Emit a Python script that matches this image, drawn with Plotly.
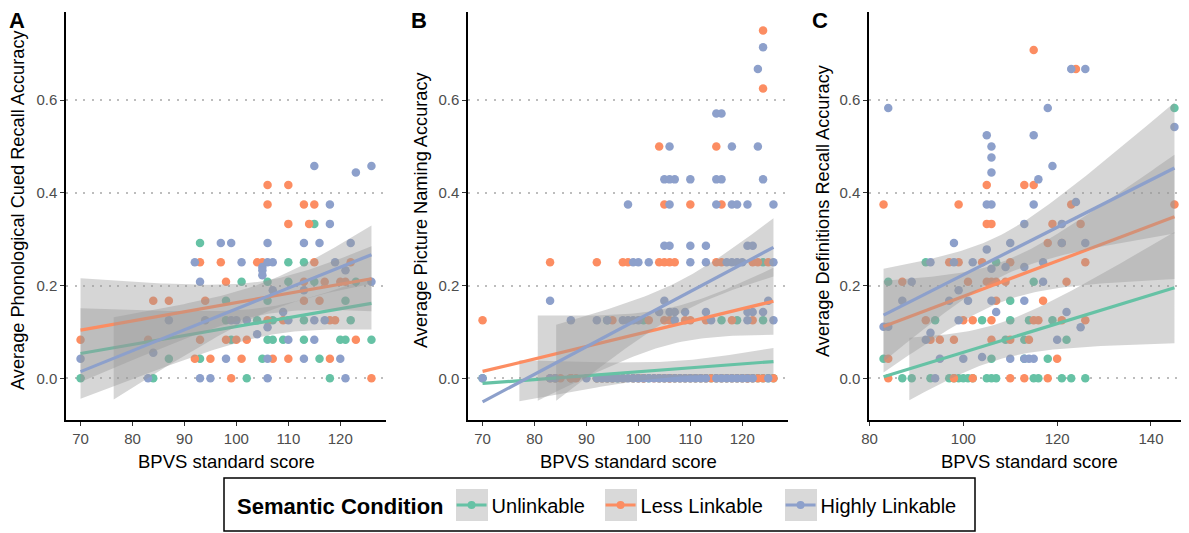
import numpy as np
import plotly.graph_objects as go

conditions = ["Unlinkable", "Less Linkable", "Highly Linkable"]
colors = ["#66C2A5", "#FC8D62", "#8DA0CB"]
panel_letters = ["A", "B", "C"]
y_titles = ["Average Phonological Cued Recall Accuracy",
            "Average Picture Naming Accuracy",
            "Average Definitions Recall Accuracy"]
x_title = "BPVS standard score"
legend_title = "Semantic Condition"
y_ticks = [0.0, 0.2, 0.4, 0.6]
y_tick_labels = ["0.0", "0.2", "0.4", "0.6"]
x_ticks_ab = [70, 80, 90, 100, 110, 120]
x_ticks_c = [80, 100, 120, 140]
y_limits = [-0.05, 0.75]

# ---------------- Panel A: phonological cued recall ----------------
a_unl_x = [70, 84, 87, 93, 93, 98, 98, 99, 101, 102, 104, 105, 106, 106, 106, 107, 107,
           109, 110, 110, 113, 113, 113, 115, 115, 116, 118, 120, 121, 121, 122, 123, 126]
a_unl_y = [0, 0, .042, .292, .042, .167, .125, .083, .208, 0, .125, .042, .208, .167, .083, .125, .083,
           .083, .25, .208, .25, .125, .083, .208, .333, .042, 0, .083, .167, .083, .125, .208, .083]
a_less_x = [70, 83, 84, 87, 92, 93, 93, 94, 95, 97, 98, 98, 99, 100, 101, 102, 104, 105, 106, 106, 106,
            107, 109, 110, 110, 110, 113, 113, 113, 114, 115, 115, 116, 117, 118, 118, 119, 120, 121,
            122, 123, 126]
a_less_y = [.083, .083, .167, .167, .042, .25, .083, .167, .042, .25, .208, .083, 0, .083, .042, .083, .25,
            .25, .417, .375, .125, .042, .125, .417, .333, .042, .375, .208, .167, .333, .375, .25, .167,
            .208, .125, .042, .125, .208, .208, .25, .083, 0]
a_high_x = [70, 83, 84, 87, 92, 93, 93, 94, 95, 97, 98, 99, 99, 100, 101, 102, 104, 105, 105, 105,
            106, 106, 106, 106, 106, 107, 107, 109, 110, 110, 113, 113, 113, 115, 115, 115, 116, 117,
            118, 118, 119, 120, 121, 121, 122, 123, 126, 126]
a_high_y = [.042, 0, .055, .125, .25, .208, 0, .125, 0, .292, .042, .292, .125, .125, .25, .125, .095,
            .24, .233, .222, .292, .25, .11, .042, 0, .25, .19, .143, .125, .083, .292, .19, .042, .458,
            .125, .083, .292, .125, .375, .333, .25, .042, .233, 0, .292, .444, .458, .208]

# ---------------- Panel B: picture naming (many overplotted zeros) ----------------
b_unl_x = [70, 84, 87, 92, 93, 94, 94, 95, 96, 97, 99, 100, 101, 101, 102, 104, 105, 106, 107, 108,
           109, 110, 111, 112, 113, 114, 115, 116, 116, 117, 118, 119, 119, 120, 121, 122, 123, 124,
           124, 124, 125, 126]
b_unl_y = [0, 0, 0, 0, 0, 0, .125, 0, 0, 0, 0, 0, 0, .125, 0, 0, 0, 0, 0, 0,
           0, 0, 0, 0, 0, 0, 0, 0, .125, 0, 0, 0, .125, 0, 0, 0, 0, .25,
           .125, 0, 0, 0]
b_less_x = [70, 83, 83, 84, 85, 87, 87, 88, 92, 92, 93, 94, 95, 95, 97, 97, 98, 99, 100, 101, 101, 102,
            103, 104, 104, 104, 105, 105, 105, 105, 106, 106, 106, 106, 107, 107, 108, 109, 109, 110,
            110, 110, 111, 112, 113, 113, 114, 115, 115, 115, 116, 116, 116, 117, 118, 118, 119, 120,
            121, 121, 122, 122, 122, 123, 123, 124, 124, 124, 125, 126]
b_less_y = [.125, .25, 0, 0, 0, 0, 0, 0, .25, 0, 0, 0, .125, 0, .25, 0, .25, 0, 0, 0, 0, .125,
            0, .5, .25, 0, .375, .25, .125, 0, .25, .125, 0, 0, .25, 0, 0, .125, 0, .375,
            .125, 0, 0, 0, .125, 0, 0, .5, .25, 0, .375, .25, 0, 0, .125, 0, 0, 0,
            0, 0, .25, .125, 0, .25, 0, .75, .625, 0, .25, 0]
b_high_x = [70, 83, 83, 84, 87, 90, 92, 92, 93, 94, 94, 95, 96, 97, 97, 98, 98, 98, 99, 99, 99,
            100, 100, 100, 101, 102, 102, 103, 104, 104, 105, 105, 105, 105, 106, 106, 106, 106, 106,
            106, 107, 107, 107, 107, 108, 109, 109, 110, 110, 110, 110, 111, 112, 113, 113, 113, 113,
            114, 115, 115, 115, 115, 116, 116, 116, 117, 117, 118, 118, 118, 118, 119, 119, 119, 120,
            120, 121, 121, 121, 121, 121, 122, 122, 122, 123, 123, 124, 124, 124, 125, 125, 126, 126,
            126]
b_high_y = [0, .167, 0, 0, .125, 0, .125, 0, 0, .125, 0, 0, 0, .125, 0, .375, .125, 0, .25, .125, 0,
            .25, .125, 0, 0, .25, 0, 0, .143, 0, .429, .286, .167, 0, .5, .429, .375, .286, .143,
            0, .429, .143, .125, 0, 0, .143, 0, .429, .286, .25, 0, 0, 0, .286, .25, .143, 0,
            .125, .571, .429, .375, 0, .571, .429, 0, .25, 0, .5, .375, .25, 0, .375, .25, 0, .25,
            0, .375, .286, .143, .125, 0, .286, .143, 0, .667, .5, .714, .429, .143, .167, 0, .375, .25,
            .125]

# ---------------- Panel C: definitions recall ----------------
c_unl_x = [83, 84, 87, 89, 92, 93, 94, 97, 98, 99, 100, 101, 102, 104, 105, 106, 106, 107, 107, 109,
           110, 110, 113, 113, 114, 115, 115, 116, 118, 119, 121, 122, 123, 126, 145]
c_unl_y = [.042, .208, 0, 0, .25, 0, .125, 0, 0, 0, 0, 0, 0, .125, 0, .042, 0, .25, 0, .083,
           .167, .125, .083, .042, .125, .208, 0, 0, .042, .125, 0, .083, 0, 0, .583]
c_less_x = [83, 84, 84, 87, 92, 93, 95, 97, 98, 98, 99, 99, 100, 101, 102, 102, 104, 105, 105, 105,
            106, 106, 106, 106, 107, 107, 109, 110, 110, 110, 113, 113, 114, 115, 115, 115, 116, 117,
            118, 118, 119, 120, 121, 121, 122, 123, 124, 125, 126, 126, 145]
c_less_y = [.375, .042, 0, .208, .125, .083, .083, .25, .083, 0, .375, .25, .125, .208, .125, 0, .25,
            .417, .333, .208, .333, .208, .125, .083, .208, .167, .208, .25, .083, 0, .417, 0, .083,
            .708, .417, .125, .125, .167, .292, 0, .333, .042, .292, .125, .208, .375, .667, .333, .25,
            .125, .375]
c_high_x = [83, 84, 84, 87, 89, 92, 93, 93, 94, 95, 97, 98, 98, 99, 99, 100, 101, 102, 104, 105, 105,
            105, 106, 106, 106, 106, 106, 106, 107, 109, 110, 110, 113, 113, 113, 113, 114, 115, 115,
            115, 116, 117, 117, 118, 119, 120, 121, 121, 122, 123, 124, 125, 126, 126, 145]
c_high_y = [.111, .583, .111, .167, .208, .083, .25, .098, 0, .042, .167, .292, .25, .19, .125, .042,
            .167, .25, .046, .524, .375, .278, .5, .476, .444, .375, .236, .167, .143, .24, .292, .042,
            .333, .24, .167, .042, .042, .524, .375, .042, .429, .25, .208, .583, .458, .083, .333, .292,
            .143, .667, .38, .11, .667, .292, .542]

panels = [
    [(a_unl_x, a_unl_y), (a_less_x, a_less_y), (a_high_x, a_high_y)],
    [(b_unl_x, b_unl_y), (b_less_x, b_less_y), (b_high_x, b_high_y)],
    [(c_unl_x, c_unl_y), (c_less_x, c_less_y), (c_high_x, c_high_y)],
]


def t_quantile(df, z=1.959964):
    # Cornish-Fisher expansion of the Student t 97.5% quantile
    g1 = (z ** 3 + z) / 4
    g2 = (5 * z ** 5 + 16 * z ** 3 + 3 * z) / 96
    g3 = (3 * z ** 7 + 19 * z ** 5 + 17 * z ** 3 - 15 * z) / 384
    return z + g1 / df + g2 / df ** 2 + g3 / df ** 3


def lm_smooth(x, y, n=80):
    x = np.asarray(x, float)
    y = np.asarray(y, float)
    b1, b0 = np.polyfit(x, y, 1)
    xs = np.linspace(x.min(), x.max(), n)
    yhat = b0 + b1 * xs
    resid = y - (b0 + b1 * x)
    s = np.sqrt(np.sum(resid ** 2) / (len(x) - 2))
    sxx = np.sum((x - x.mean()) ** 2)
    se = s * np.sqrt(1 / len(x) + (xs - x.mean()) ** 2 / sxx)
    t = t_quantile(len(x) - 2)
    return xs, yhat, yhat - t * se, yhat + t * se


def segments(mask):
    segs, cur = [], []
    for i, m in enumerate(mask):
        if m:
            cur.append(i)
        elif cur:
            segs.append(cur)
            cur = []
    if cur:
        segs.append(cur)
    return segs


fig = go.Figure()
axis_ids = [("x", "y"), ("x2", "y2"), ("x3", "y3")]

for p, groups in enumerate(panels):
    xa, ya = axis_ids[p]
    for g, (gx, gy) in enumerate(groups):
        fig.add_trace(go.Scatter(
            x=gx, y=gy, mode="markers", xaxis=xa, yaxis=ya,
            marker=dict(color=colors[g], size=8.5, line=dict(width=0)),
            showlegend=False, hoverinfo="x+y", name=conditions[g]))
    for g, (gx, gy) in enumerate(groups):
        xs, yhat, lo, hi = lm_smooth(gx, gy)
        ok = (lo >= y_limits[0]) & (hi <= y_limits[1])   # out-of-limit ribbon rows are dropped
        for seg in segments(ok):
            sx = xs[seg]
            fig.add_trace(go.Scatter(
                x=np.concatenate([sx, sx[::-1]]),
                y=np.concatenate([hi[seg], lo[seg][::-1]]),
                fill="toself", fillcolor="rgba(153,153,153,0.4)",
                line=dict(width=0), mode="lines", xaxis=xa, yaxis=ya,
                showlegend=False, hoverinfo="skip"))
        fig.add_trace(go.Scatter(
            x=xs, y=yhat, mode="lines", xaxis=xa, yaxis=ya,
            line=dict(color=colors[g], width=3.2),
            showlegend=False, hoverinfo="skip"))

legend_widths = [104, 135, 145]
for g, cond in enumerate(conditions):
    fig.add_trace(go.Scatter(
        x=[None], y=[None], mode="lines+markers", name=cond,
        line=dict(color=colors[g], width=3), marker=dict(color=colors[g], size=8),
        xaxis="x", yaxis="y", showlegend=True, legendwidth=legend_widths[g]))

# The page body adds an 8 px offset, so the figure is sized to the remaining view
# and every position below is given in screen pixels, then shifted by OFF.
OFF = 8
W, H = 1189 - OFF, 533 - OFF
ML, MT = 66 - OFF, 12 - OFF
PLOT_BOTTOM = 420 - OFF
MB = H - PLOT_BOTTOM
PW, PH = W - ML, PLOT_BOTTOM - MT


def px2x(sx):
    return (sx - OFF - ML) / PW


def py2y(sy):
    return (PLOT_BOTTOM - (sy - OFF)) / PH


font_family = "Liberation Sans, Arial, sans-serif"
x_domains = [(px2x(66), px2x(386)), (px2x(468), px2x(788)), (px2x(869), 1.0)]
x_ranges = [[67.2, 128.8], [67.2, 128.8], [79.9, 148.1]]
x_tickvals = [x_ticks_ab, x_ticks_ab, x_ticks_c]

common_axis = dict(showline=True, linecolor="black", linewidth=1.5, automargin=False,
                   ticks="outside", ticklen=4, tickwidth=1.2, tickcolor="#333333",
                   tickfont=dict(size=15, color="#4D4D4D", family=font_family),
                   zeroline=False)

layout = dict(
    width=W, height=H, margin=dict(l=ML, r=0, t=MT, b=MB, autoexpand=False),
    paper_bgcolor="white", plot_bgcolor="white",
    font=dict(family=font_family, color="black"),
    showlegend=True,
    legend=dict(orientation="h", x=px2x(235), xanchor="left", y=py2y(505), yanchor="middle",
                borderwidth=0, bgcolor="rgba(255,255,255,0)",
                font=dict(size=20, family=font_family, color="black"),
                title=dict(text="<b>" + legend_title + "</b>", side="left",
                           font=dict(size=22, family=font_family, color="black")),
                itemwidth=30),
)
for p in range(3):
    sfx = "" if p == 0 else str(p + 1)
    layout["xaxis" + sfx] = dict(
        common_axis, domain=list(x_domains[p]), range=x_ranges[p],
        tickvals=x_tickvals[p], showgrid=False, anchor="y" + sfx)
    layout["yaxis" + sfx] = dict(
        common_axis, domain=[0, 1], range=[-0.09, 0.79],
        tickvals=y_ticks, ticktext=y_tick_labels, anchor="x" + sfx,
        showgrid=True, gridcolor="#BDBDBD", gridwidth=1.5, griddash="2px,6.5px")

fig.update_layout(**layout)

# axis titles and panel tags
x_title_cx = [226, 628, 1029]
y_title_cx = [18, 421, 823]
label_x = [7, 409, 810]
for p in range(3):
    fig.add_annotation(text=x_title, xref="paper", yref="paper",
                       x=px2x(x_title_cx[p]), y=py2y(461), xanchor="center", yanchor="middle",
                       showarrow=False, font=dict(size=18.5, family=font_family, color="black"))
    fig.add_annotation(text=y_titles[p], xref="paper", yref="paper", textangle=-90,
                       x=px2x(y_title_cx[p]), y=py2y(210), xanchor="center", yanchor="middle",
                       showarrow=False, font=dict(size=18.2, family=font_family, color="black"))
    fig.add_annotation(text="<b>" + panel_letters[p] + "</b>", xref="paper", yref="paper",
                       x=px2x(label_x[p]), y=py2y(20), xanchor="left", yanchor="middle",
                       showarrow=False, font=dict(size=22, family=font_family, color="black"))

# legend frame and grey key backgrounds
fig.add_shape(type="rect", xref="paper", yref="paper", layer="above",
              x0=px2x(224), x1=px2x(975), y0=py2y(531), y1=py2y(478),
              line=dict(color="black", width=1.5), fillcolor="rgba(0,0,0,0)")
key_left = [456, 605, 785]
for kx in key_left:
    fig.add_shape(type="rect", xref="paper", yref="paper", layer="below",
                  x0=px2x(kx), x1=px2x(kx + 32), y0=py2y(521), y1=py2y(489),
                  line=dict(width=0), fillcolor="#D9D9D9")

fig.write_html("out.html")
